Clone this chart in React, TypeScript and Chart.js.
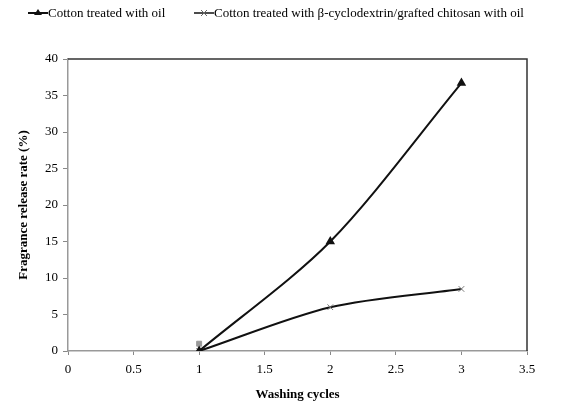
import React, { useEffect, useRef } from "react";
import { Chart, registerables } from "chart.js";

Chart.register(...registerables);

const washingCycles = [1, 2, 3];
const oilOnly = [0, 15, 36.7];
const oilWithCD = [0, 6, 8.5];
const extraPointX = [1];
const extraPointY = [1];
const xTicks = [0, 0.5, 1, 1.5, 2, 2.5, 3, 3.5];
const yTicks = [0, 5, 10, 15, 20, 25, 30, 35, 40];

const FONT = "'Liberation Serif', 'Times New Roman', serif";

const framePlugin = {
  id: "frame",
  afterDraw(chart: any) {
    const { ctx, chartArea } = chart;
    ctx.save();
    ctx.strokeStyle = "#333";
    ctx.lineWidth = 1.5;
    ctx.beginPath();
    ctx.moveTo(chartArea.left, chartArea.top);
    ctx.lineTo(chartArea.right, chartArea.top);
    ctx.lineTo(chartArea.right, chartArea.bottom);
    ctx.stroke();
    ctx.restore();
  },
};

export default function App() {
  const ref = useRef<HTMLCanvasElement>(null);
  useEffect(() => {
    document.body.style.margin = "0";
    const toPts = (xs: number[], ys: number[]) => xs.map((x, i) => ({ x, y: ys[i] }));
    const chart = new Chart(ref.current!, {
      type: "scatter",
      data: {
        datasets: [
          {
            label: "Cotton treated with oil",
            data: toPts(washingCycles, oilOnly),
            showLine: true,
            borderColor: "#111",
            backgroundColor: "#111",
            borderWidth: 2,
            pointStyle: "triangle",
            pointRadius: 3.5,
            tension: 0.3,
          },
          {
            label: "Cotton treated with β-cyclodextrin/grafted chitosan with oil",
            data: toPts(washingCycles, oilWithCD),
            showLine: true,
            borderColor: "#111",
            backgroundColor: "#777",
            pointBorderColor: "#777",
            borderWidth: 2,
            pointStyle: "crossRot",
            pointRadius: 4,
            pointBorderWidth: 1,
            tension: 0.3,
          },
          {
            label: "extra",
            data: toPts(extraPointX, extraPointY),
            showLine: false,
            backgroundColor: "#999",
            borderColor: "#999",
            pointStyle: "rect",
            pointRadius: 3.5,
            order: 5,
          },
        ],
      },
      options: {
        animation: false,
        responsive: false,
        layout: { padding: { top: 59, right: 38, left: 0, bottom: 0 } },
        plugins: { legend: { display: false }, tooltip: { enabled: false } },
        scales: {
          x: {
            type: "linear",
            min: 0,
            max: 3.5,
            afterBuildTicks: (s: any) => {
              s.ticks = xTicks.map((v) => ({ value: v }));
            },
            afterFit: (s: any) => {
              s.height = 51;
            },
            grid: {
              display: true,
              drawOnChartArea: false,
              drawTicks: true,
              tickLength: 4,
              color: "#888",
            },
            border: { color: "#999", width: 1.5 },
            ticks: {
              color: "#000",
              font: { family: FONT, size: 13 },
              padding: 7,
              maxRotation: 0,
              autoSkip: false,
              callback: (v: any) => String(v),
            },
            title: {
              display: true,
              text: "Washing cycles",
              color: "#000",
              font: { family: FONT, size: 13, weight: "bold" },
              padding: { top: 1, bottom: 0 },
            },
          },
          y: {
            type: "linear",
            min: 0,
            max: 40,
            afterBuildTicks: (s: any) => {
              s.ticks = yTicks.map((v) => ({ value: v }));
            },
            afterFit: (s: any) => {
              s.width = 68;
            },
            grid: {
              display: true,
              drawOnChartArea: false,
              drawTicks: true,
              tickLength: 5,
              color: "#888",
            },
            border: { color: "#999", width: 1.5 },
            ticks: {
              color: "#000",
              font: { family: FONT, size: 13 },
              padding: 5,
              autoSkip: false,
              callback: (v: any) => String(v),
            },
            title: {
              display: true,
              text: "Fragrance release rate (%)",
              color: "#000",
              font: { family: FONT, size: 13, weight: "bold" },
              padding: { top: 16, bottom: 0 },
            },
          },
        },
      },
      plugins: [framePlugin],
    } as any);
    return () => chart.destroy();
  }, []);

  const legendText: React.CSSProperties = {
    fontFamily: FONT,
    fontSize: 13,
    color: "#000",
    whiteSpace: "nowrap",
  };

  return (
    <div style={{ position: "relative", width: 565, height: 402, background: "#fff" }}>
      <canvas ref={ref} width={565} height={402} style={{ position: "absolute", left: 0, top: 0 }} />
      <div style={{ position: "absolute", left: 28, top: 5, display: "flex", alignItems: "center" }}>
        <svg width={20} height={12}>
          <line x1={0} y1={6} x2={20} y2={6} stroke="#111" strokeWidth={2} />
          <polygon points="10,2 14,8 6,8" fill="#111" />
        </svg>
        <span style={legendText}>Cotton treated with oil</span>
      </div>
      <div style={{ position: "absolute", left: 194, top: 5, display: "flex", alignItems: "center" }}>
        <svg width={20} height={12}>
          <line x1={0} y1={6} x2={20} y2={6} stroke="#111" strokeWidth={1.5} />
          <line x1={7} y1={3} x2={13} y2={9} stroke="#666" strokeWidth={1} />
          <line x1={13} y1={3} x2={7} y2={9} stroke="#666" strokeWidth={1} />
        </svg>
        <span style={legendText}>Cotton treated with β-cyclodextrin/grafted chitosan with oil</span>
      </div>
    </div>
  );
}
